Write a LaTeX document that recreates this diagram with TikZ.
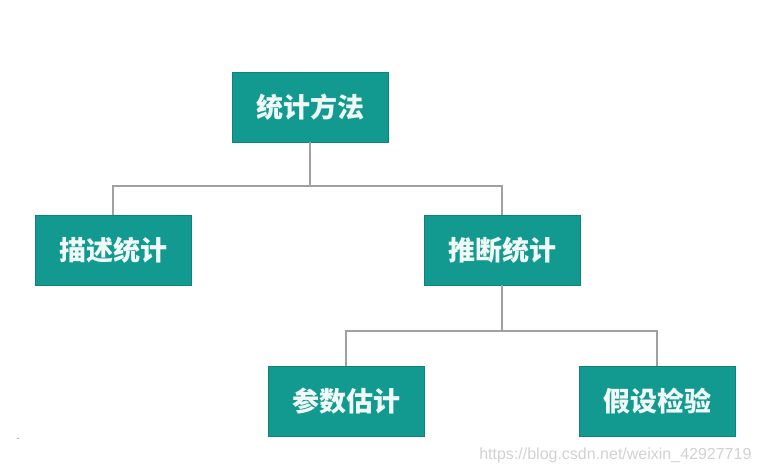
\documentclass[tikz,border=0pt]{standalone}
\usepackage{fontspec}
\setmainfont{Liberation Sans}
\newfontfamily\cjk{Noto Sans CJK SC}
\definecolor{boxteal}{RGB}{18,154,144}
\definecolor{linegray}{RGB}{160,160,160}
\tikzset{
  catbox/.style={draw=boxteal!85!black, fill=boxteal, text=white!94!boxteal, minimum width=156pt, minimum height=70pt, inner sep=0pt, font=\cjk\bfseries\fontsize{27}{27}\selectfont},
  link/.style={draw=linegray, line width=2.2pt}
}
\begin{document}
\begin{tikzpicture}[x=1pt,y=-1pt]
\useasboundingbox (0,0) rectangle (763,473);

\node[catbox] (method) at (310,107){统计方法};
\node[catbox] (desc) at (113,250){描述统计};
\node[catbox] (infer) at (502,250){推断统计};
\node[catbox] (est) at (346,401){参数估计};
\node[catbox] (test) at (657,401){假设检验};

\coordinate (j1) at (310,186);
\coordinate (j2) at (502,331);
\draw[link] (method.south) -- (j1);
\draw[link] (j1) -| (desc.north);
\draw[link] (j1) -| (infer.north);
\draw[link] (infer.south) -- (j2);
\draw[link] (j2) -| (est.north);
\draw[link] (j2) -| (test.north);

\node[text=black!18, font=\fontsize{16}{16}\selectfont, anchor=east] (mark) at (755,455){https://blog.csdn.net/weixin\_42927719};
\node[text=black!40, font=\fontsize{10}{10}\selectfont] (dash) at (18,440){-};
\end{tikzpicture}
\end{document}
